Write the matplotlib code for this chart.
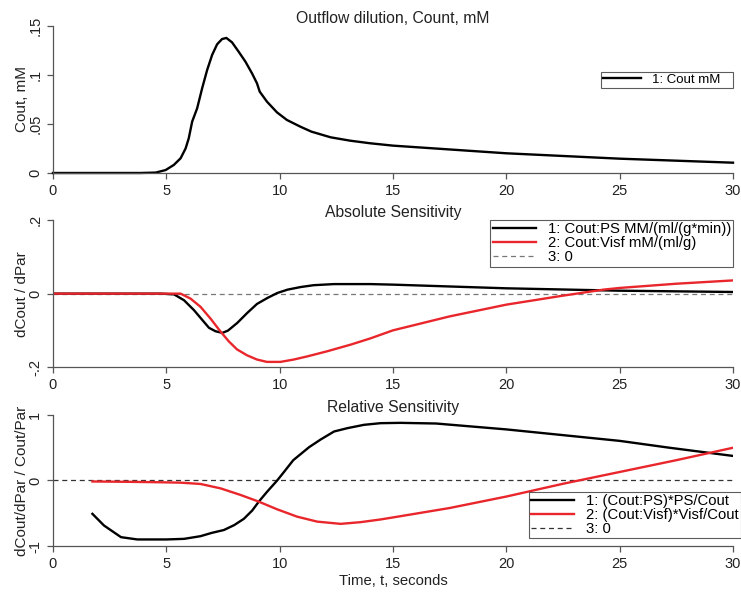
import matplotlib
matplotlib.use("Agg")
from matplotlib import pyplot as plt

plt.rcParams['font.family'] = ['Liberation Sans', 'DejaVu Sans']

# --- DATA ------------------------------------------------------------+

t_cout = [0, 3.87, 4.53, 4.97, 5.33, 5.63, 5.85, 5.99, 6.14, 6.36, 6.58, 6.8,
          7.02, 7.24, 7.46, 7.65, 7.9, 8.19, 8.49, 8.78, 9.0, 9.12, 9.44, 9.88,
          10.32, 10.91, 11.4, 12.25, 13.1, 14.0, 15, 20, 25, 30]
cout = [0, 0, 0.0004, 0.003, 0.0082, 0.015, 0.025, 0.0354, 0.0524, 0.066,
        0.0864, 0.105, 0.1204, 0.1313, 0.1367, 0.1378, 0.1333, 0.1238, 0.1136,
        0.1017, 0.0915, 0.083, 0.0728, 0.0619, 0.0541, 0.0473, 0.0422, 0.0364,
        0.033, 0.0303, 0.0279, 0.0201, 0.0146, 0.0105]

t_abs_ps = [0, 4.75, 5.34, 5.78, 6.22, 6.66, 6.88, 7.17, 7.47, 7.72, 8.13, 8.57,
            9.0, 9.46, 9.9, 10.35, 10.93, 11.5, 12.4, 14.0, 15, 20, 25, 30]
abs_ps = [0, 0, -0.002, -0.018, -0.045, -0.077, -0.093, -0.1025, -0.107,
          -0.1007, -0.0798, -0.0526, -0.0281, -0.0118, 0.0018, 0.0109, 0.018,
          0.023, 0.026, 0.026, 0.0245, 0.0145, 0.008, 0.0045]

t_abs_visf = [0, 5.63, 6.07, 6.51, 6.95, 7.35, 7.75, 8.12, 8.56, 9.0, 9.44,
              10.03, 10.62, 11.22, 12.1, 13.13, 14.0, 15, 17.5, 20, 22.5, 24.3,
              25, 27.5, 30]
abs_visf = [0, 0, -0.0136, -0.036, -0.068, -0.1, -0.1297, -0.152, -0.168,
            -0.1796, -0.186, -0.186, -0.1796, -0.171, -0.157, -0.139, -0.122,
            -0.1, -0.062, -0.03, -0.0055, 0.011, 0.0155, 0.027, 0.036]

t_rel_ps = [1.74, 2.25, 3.0, 3.72, 5.0, 5.78, 6.51, 7.0, 7.54, 8.0, 8.42, 8.79,
            9.08, 9.45, 9.89, 10.19, 10.6, 11.3, 11.81, 12.4, 12.99, 13.72,
            14.45, 15.33, 16.9, 20, 25, 27.2, 30]
rel_ps = [-0.509, -0.687, -0.865, -0.9, -0.9, -0.891, -0.85, -0.8, -0.756,
          -0.68, -0.585, -0.458, -0.323, -0.17, 0.0, 0.13, 0.31, 0.509, 0.626,
          0.748, 0.799, 0.85, 0.875, 0.88, 0.87, 0.78, 0.605, 0.5, 0.375]

t_rel_visf = [1.74, 3.28, 4.75, 5.63, 6.51, 7.39, 8.27, 9.08, 9.89, 10.77,
              11.66, 12.69, 13.57, 14.45, 15.33, 17.5, 20, 22.5, 25, 27.5, 30]
rel_visf = [-0.015, -0.02, -0.027, -0.033, -0.053, -0.12, -0.22, -0.323, -0.44,
            -0.552, -0.628, -0.662, -0.636, -0.595, -0.545, -0.42, -0.245, -0.05,
            0.13, 0.31, 0.50]

x_ticks = [0, 5, 10, 15, 20, 25, 30]

RED = '#e8262b'
AXC = '#555555'
TXT = '#222222'


def style_axes(ax, yticks, ylabels, ylim, title, ylabel):
    ax.set_xlim(0, 30)
    ax.set_ylim(*ylim)
    for s in ['top', 'right']:
        ax.spines[s].set_visible(False)
    for s in ['left', 'bottom']:
        ax.spines[s].set_color(AXC)
        ax.spines[s].set_linewidth(0.9)
    ax.set_xticks(x_ticks)
    ax.set_xticklabels([str(v) for v in x_ticks])
    ax.set_yticks(yticks)
    ax.set_yticklabels(ylabels, rotation=90, va='center')
    ax.tick_params(colors=AXC, labelcolor=TXT, labelsize=10.5, length=4.5,
                   width=0.9, direction='out', pad=3.2)
    ax.set_title(title, fontsize=11.3, pad=2.5, color=TXT)
    ax.set_ylabel(ylabel, fontsize=11, color=TXT)
    ax.yaxis.set_label_coords(-0.036, 0.5)


def box_legend(ax, size, **kw):
    leg = ax.legend(fontsize=size, frameon=True, fancybox=False,
                    handlelength=2.9, borderpad=0.15, labelspacing=0.0,
                    handletextpad=0.8, borderaxespad=0, **kw)
    leg.get_frame().set_edgecolor('#333333')
    leg.get_frame().set_linewidth(0.8)
    return leg


fig = plt.figure(figsize=(7.41, 5.92), dpi=100)

# --- TOP: Outflow dilution --------------------------------------------+
ax1 = fig.add_axes([0.0715, 0.7078, 0.9177, 0.2483])
ax1.plot(t_cout, cout, color='black', lw=1.7, clip_on=False, label='1: Cout mM   ')
style_axes(ax1, [0, 0.05, 0.1, 0.15], ['0', '.05', '.1', '.15'], (0, 0.15),
           'Outflow dilution, Count, mM', 'Cout, mM')
box_legend(ax1, 9.5, loc='upper right', bbox_to_anchor=(1.0, 0.69))

# --- MIDDLE: Absolute Sensitivity -------------------------------------+
ax2 = fig.add_axes([0.0715, 0.380, 0.9177, 0.248])
ax2.plot(t_abs_ps, abs_ps, color='black', lw=1.7, label='1: Cout:PS MM/(ml/(g*min))')
ax2.plot(t_abs_visf, abs_visf, color=RED, lw=1.7, label='2: Cout:Visf mM/(ml/g)')
ax2.axhline(0, color='#777777', lw=0.9, ls=(0, (4, 3)), label='3: 0', zorder=0)
style_axes(ax2, [-0.2, 0, 0.2], ['-.2', '0', '.2'], (-0.2, 0.2),
           'Absolute Sensitivity', 'dCout / dPar')
box_legend(ax2, 10.7, loc='upper right', bbox_to_anchor=(1.0, 1.0))

# --- BOTTOM: Relative Sensitivity -------------------------------------+
ax3 = fig.add_axes([0.0715, 0.0777, 0.9177, 0.2213])
ax3.plot(t_rel_ps, rel_ps, color='black', lw=1.7, label='1: (Cout:PS)*PS/Cout')
ax3.plot(t_rel_visf, rel_visf, color=RED, lw=1.7, label='2: (Cout:Visf)*Visf/Cout')
ax3.axhline(0, color='#333333', lw=0.9, ls=(0, (4, 3)), label='3: 0', zorder=0)
style_axes(ax3, [-1, 0, 1], ['-1', '0', '1'], (-1, 1),
           'Relative Sensitivity', 'dCout/dPar / Cout/Par')
ax3.set_xlabel('Time, t, seconds', fontsize=10.7, color=TXT, labelpad=2.5)
box_legend(ax3, 10.7, loc='lower right', bbox_to_anchor=(1.0118, 0.06))

plt.savefig('out.png', dpi=100)
